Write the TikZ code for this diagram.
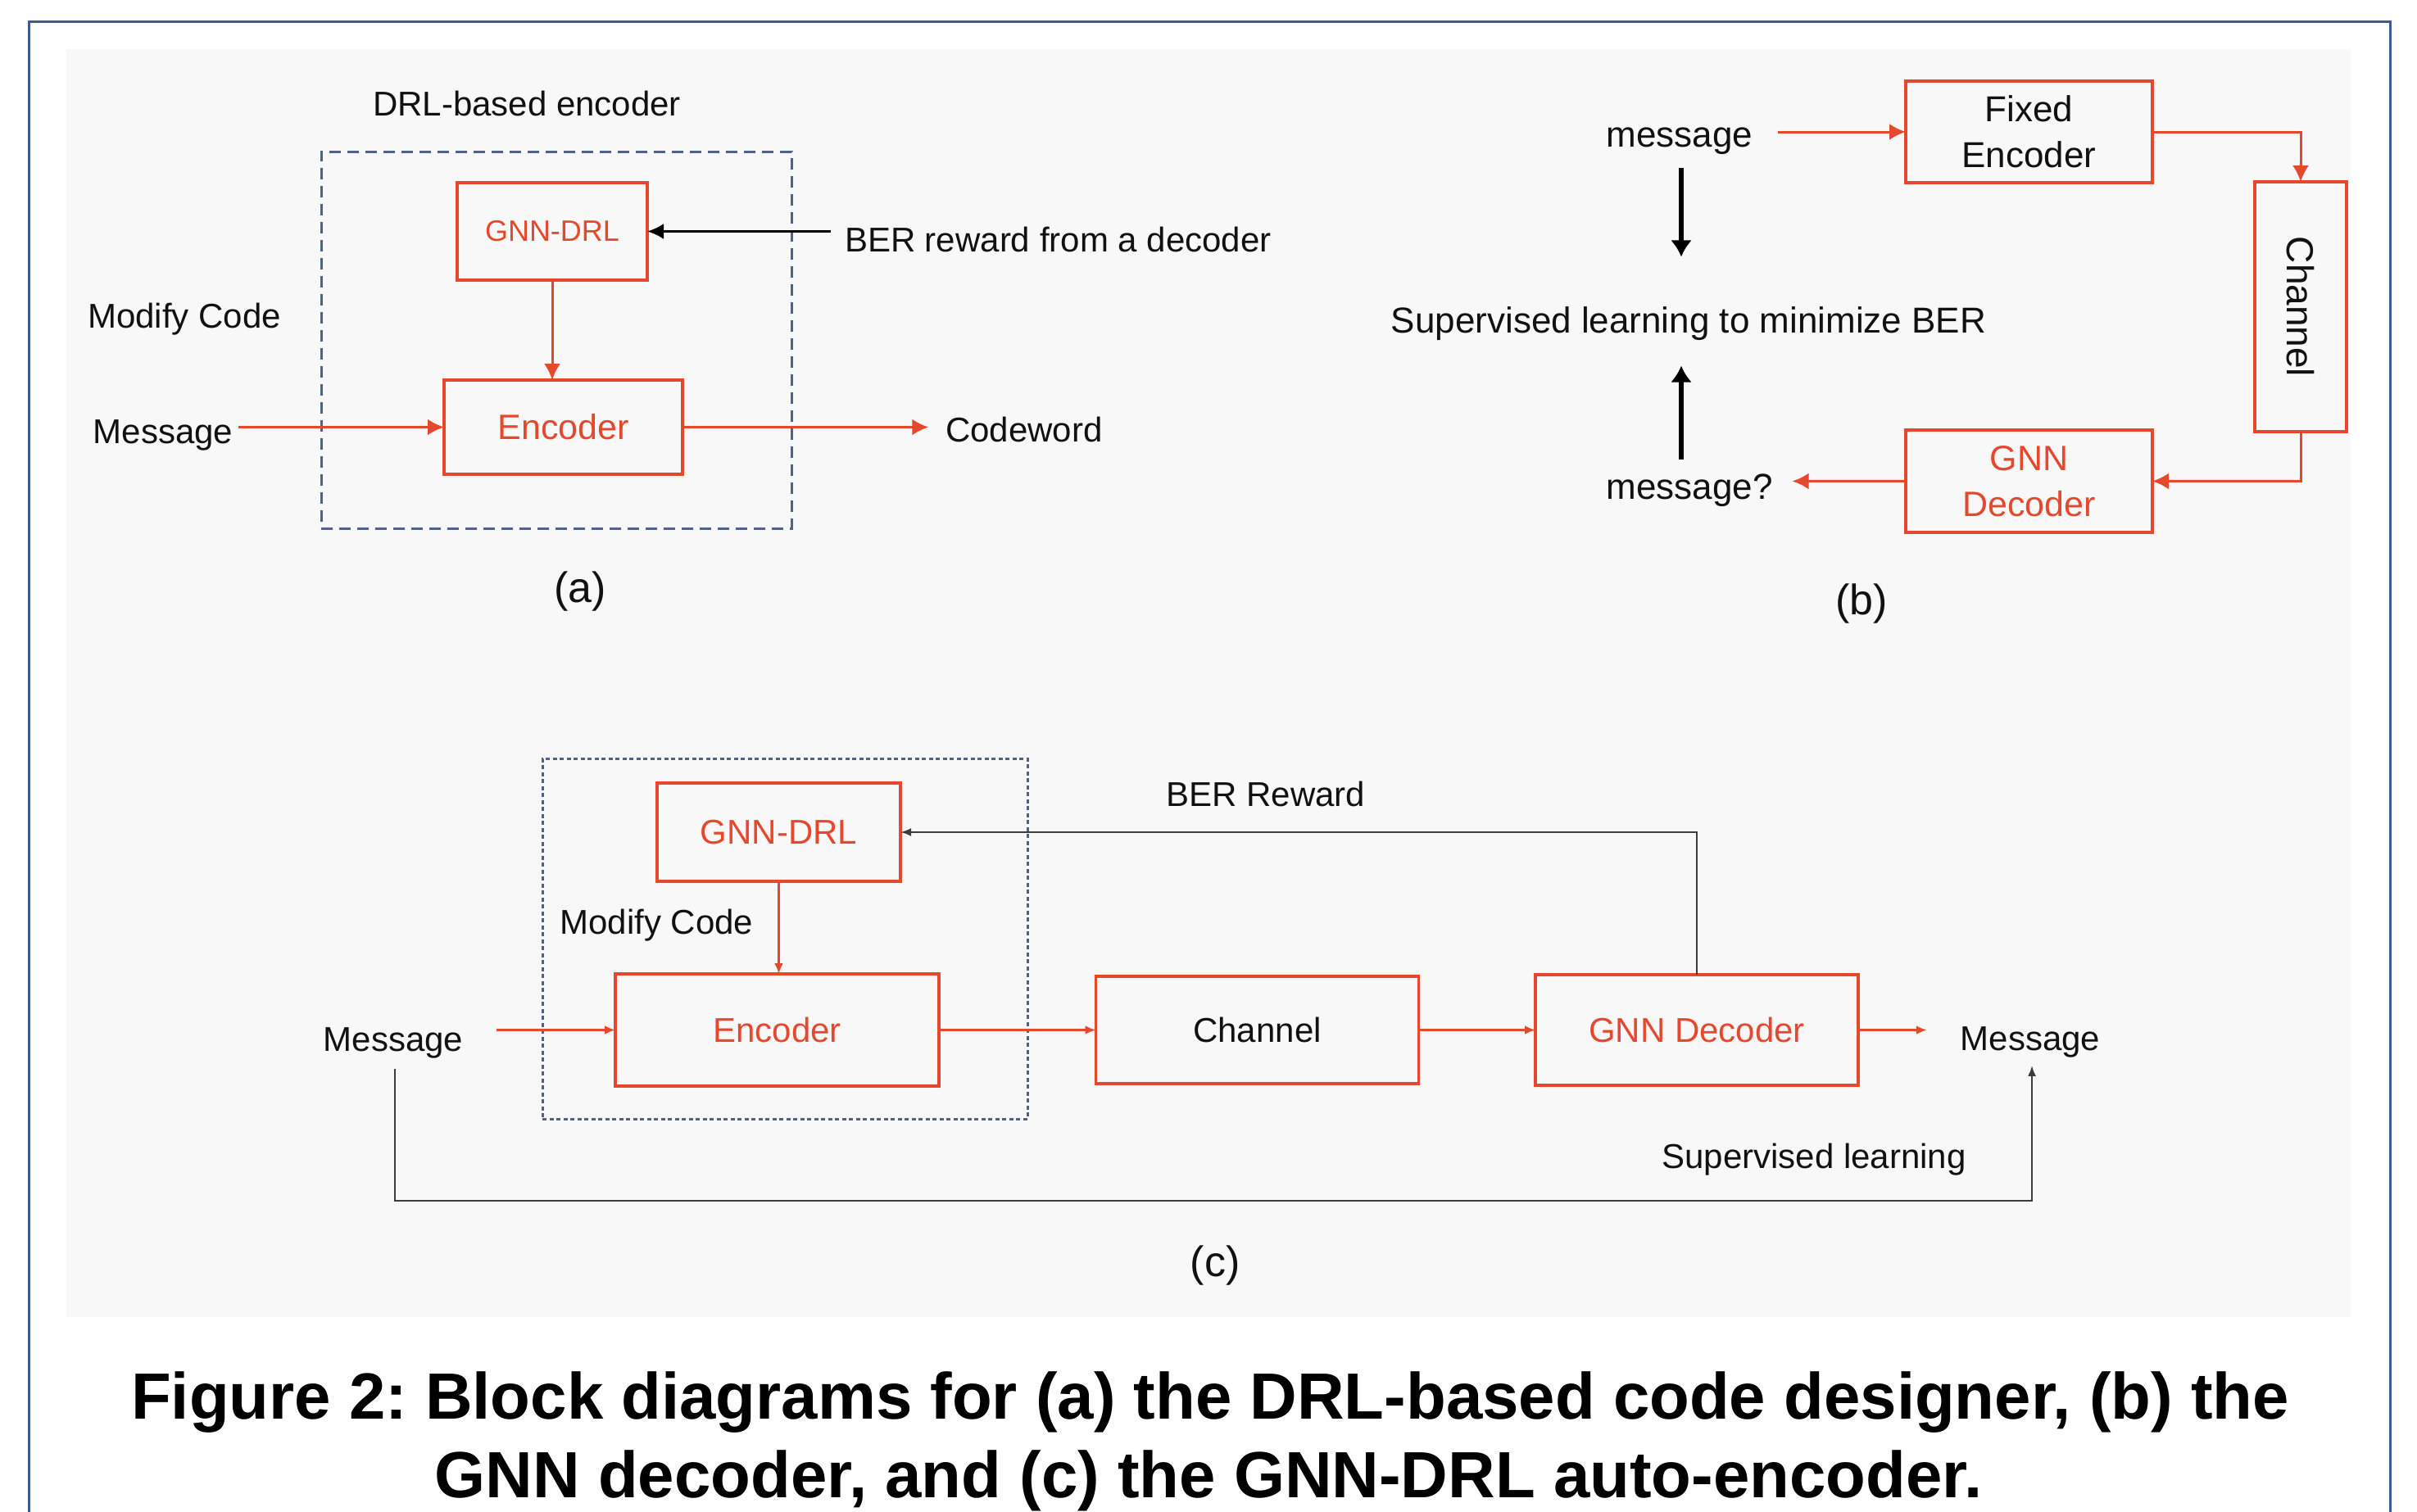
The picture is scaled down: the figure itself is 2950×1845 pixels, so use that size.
\documentclass[tikz,border=0pt]{standalone}
\usepackage{fontspec}
\setmainfont{Liberation Sans}
\usetikzlibrary{arrows.meta,calc}
\definecolor{kred}{RGB}{229,72,45}
\definecolor{panelbg}{RGB}{248,248,248}
\definecolor{framebl}{RGB}{62,92,142}
\definecolor{dashbl}{RGB}{80,98,140}
\definecolor{txt}{RGB}{17,17,17}
\definecolor{lgray}{RGB}{60,60,60}
\frenchspacing
\begin{document}
\begin{tikzpicture}[x=1pt,y=-1pt,
  every node/.style={inner sep=0pt, outer sep=0pt, text=txt},
  lbl/.style={font=\fontsize{42}{50}\selectfont},
  lblb/.style={font=\fontsize{44}{52}\selectfont},
  sublbl/.style={font=\fontsize{52}{60}\selectfont},
  capf/.style={font=\fontsize{79.8}{96}\selectfont\bfseries, text=black},
  rbox/.style={draw=kred, line width=3.5pt, text=kred, align=center},
  bbox/.style={draw=kred, line width=3.5pt, text=txt, align=center},
  dashbox/.style={draw=dashbl, line width=3pt},
  redarr/.style={draw=kred, line width=3pt, -{Latex[length=20pt,width=20pt]}},
  redarrS/.style={draw=kred, line width=2.5pt, -{Latex[length=13pt,width=11pt]}},
  blkarr/.style={draw=black, line width=3pt, -{Latex[length=20pt,width=19pt]}},
  bigarr/.style={draw=black, line width=6.5pt, -{Latex[length=20pt,width=26pt]}},
  blkthin/.style={draw=lgray, line width=2.5pt, -{Latex[length=13pt,width=10pt]}}
]
\useasboundingbox (0,0) rectangle (2950,1845);
\fill[white] (0,0) rectangle (2950,1845);
\fill[panelbg] (81,60) rectangle (2869,1608);
\draw[framebl, line width=3pt] (35,1860) -- (35,26) -- (2917,26) -- (2917,1860);

% ---------- panel (a)
\node[dashbox, dash pattern=on 14pt off 8pt, minimum width=574, minimum height=460] (dashA) at (679,415) {};
\node[lbl] (drlA) at (643,126) {DRL-based encoder};
\node[rbox, font=\fontsize{36}{43}\selectfont, minimum width=232, minimum height=119] (gnnA) at (674,282.5) {GNN-DRL};
\node[rbox, font=\fontsize{43}{52}\selectfont, minimum width=291, minimum height=115] (encA) at (687.5,521.5) {Encoder};
\node[lbl] (modA) at (225,390) {Modify Code};
\node[lbl] (msgA) at (199,531) {Message};
\node[lbl] (codeA) at (1250,524) {Codeword};
\node[lbl, anchor=west] (berA) at (1031,292) {BER reward from a decoder};
\node[sublbl] (labA) at (708,722) {(a)};

\draw[redarr] (gnnA.south) -- (gnnA.south |- encA.north);
\draw[redarr, shorten <=7pt] (msgA.east |- encA.west) -- (encA.west);
\draw[redarr, shorten >=21pt] (encA.east) -- (codeA.west |- encA.east);
\draw[blkarr, shorten <=17pt] (berA.west |- gnnA.east) -- (gnnA.east);

% ---------- panel (b)
\node[lblb] (msgB) at (2050,172) {message};
\node[bbox, font=\fontsize{44}{56}\selectfont, minimum width=301, minimum height=124] (fe) at (2476.5,161) {Fixed\\Encoder};
\node[bbox, font=\fontsize{46}{56}\selectfont, minimum width=112, minimum height=305] (chB) at (2808,374.5) {\rotatebox{-90}{Channel}};
\node[rbox, font=\fontsize{43}{56}\selectfont, minimum width=301, minimum height=125] (gnnB) at (2476.5,587.5) {GNN\\Decoder};
\node[lblb] (msgQ) at (2062,599) {message?};
\node[lblb] (supB) at (2061,395) {Supervised learning to minimize BER};
\node[sublbl] (labB) at (2272,737) {(b)};

\draw[redarr, shorten <=31pt] (msgB.east |- fe.west) -- (fe.west);
\draw[redarr] (fe.east) -| (chB.north);
\draw[redarr] (chB.south) |- (gnnB.east);
\draw[redarr, shorten >=24pt] (gnnB.west) -- (msgQ.east |- gnnB.west);
\draw[bigarr] ($(msgB.south)+(2,17)$) -- ($(supB.north)+(-9,-61)$);
\draw[bigarr] ($(msgQ.north)+(-10,-18)$) -- ($(supB.south)+(-9,31)$);

% ---------- panel (c)
\node[dashbox, dash pattern=on 5pt off 3.5pt, minimum width=592, minimum height=440] (dashC) at (958,1146) {};
\node[rbox, font=\fontsize{42}{50}\selectfont, minimum width=297, minimum height=120] (gnnC) at (950.5,1016) {GNN-DRL};
\node[rbox, font=\fontsize{42}{50}\selectfont, minimum width=395, minimum height=137] (encC) at (948.5,1257.5) {Encoder};
\node[bbox, font=\fontsize{42}{50}\selectfont, minimum width=394, minimum height=131] (chC) at (1534.5,1257.5) {Channel};
\node[rbox, font=\fontsize{42}{50}\selectfont, minimum width=394, minimum height=135] (decC) at (2071,1257.5) {GNN Decoder};
\node[lbl] (modC) at (801.5,1130) {Modify Code};
\node[lbl] (msgCl) at (480,1273) {Message};
\node[lbl] (msgCr) at (2478,1272) {Message};
\node[lbl] (berC) at (1545,969) {BER Reward};
\node[lbl] (supC) at (2214,1416) {Supervised learning};
\node[sublbl] (labC) at (1483,1545) {(c)};

\draw[redarrS] (gnnC.south) -- (gnnC.south |- encC.north);
\draw[redarrS, shorten <=41pt] (msgCl.east |- encC.west) -- (encC.west);
\draw[redarrS] (encC.east) -- (chC.west);
\draw[redarrS] (chC.east) -- (decC.west);
\draw[redarrS, shorten >=41pt] (decC.east) -- (msgCr.west |- decC.east);
\draw[blkthin] (decC.north) |- (gnnC.east);
\draw[blkthin] ($(msgCl.south)+(2,13)$) -- ($(msgCl.south)+(2,174)$) -| ($(msgCr.south)+(2,10)$);

% ---------- caption
\node[capf, anchor=base] (cap1) at (1477,1732) {Figure 2: Block diagrams for (a) the DRL-based code designer, (b) the};
\node[capf, anchor=base] (cap2) at (1475,1828) {GNN decoder, and (c) the GNN-DRL auto-encoder.};
\end{tikzpicture}
\end{document}
